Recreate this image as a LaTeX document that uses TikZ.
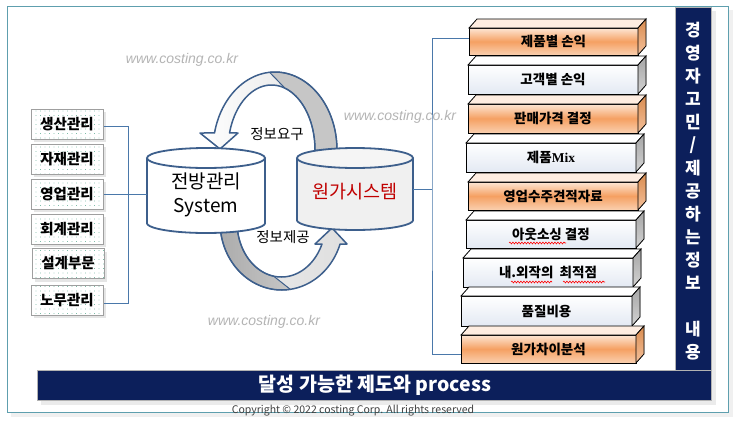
\documentclass[tikz,border=0pt]{standalone}
\usepackage{fontspec}
\setmainfont{Noto Sans CJK KR}
\newfontfamily\wmfont{Liberation Sans}
\newfontfamily\mixfont{Liberation Serif}
\usetikzlibrary{patterns.meta,shadows,calc,decorations.pathmorphing}
\definecolor{navy}{HTML}{0C1F5B}
\definecolor{frameteal}{HTML}{5E9FAE}
\definecolor{cylline}{HTML}{3D5F8C}
\definecolor{conn}{HTML}{4A78AA}
\definecolor{wmgray}{HTML}{B4B4B4}
\definecolor{peachtop}{HTML}{FDE6D4}
\definecolor{orangemid}{HTML}{F5A062}
\definecolor{peachbot}{HTML}{FAD0B0}
\definecolor{orsideA}{HTML}{D98C50}
\definecolor{orsideB}{HTML}{F4C09A}
\definecolor{wbot}{HTML}{E3E9F3}
\definecolor{costred}{HTML}{C00000}
\definecolor{dotcol}{HTML}{3A9A7A}
\newcommand\stackbar[7]{%
  \node[#6front, minimum width={#4-#2}, minimum height={#5-#3}] (#1) at ({(#2+#4)/2},{(#3+#5)/2}) {#7};
  \filldraw[#6top] (#1.north west) -- ++(8,-9) -- ($(#1.north east)+(8,-9)$) -- (#1.north east) -- cycle;
  \filldraw[#6side] (#1.north east) -- ++(8,-9) -- ($(#1.south east)+(8,-9)$) -- (#1.south east) -- cycle;
}
\begin{document}
\begin{tikzpicture}[x=1pt,y=-1pt,
  lbox/.style={draw=gray!75, line width=1pt, minimum width=72, minimum height=30, inner sep=1pt,
    font=\fontsize{14.5}{16}\selectfont\bfseries,
    drop shadow={shadow xshift=3pt,shadow yshift=-3pt,fill=black!10,opacity=1},
    preaction={fill=white}, pattern={Dots[radius=0.45pt,distance=4.5pt]}, pattern color=dotcol},
  barbase/.style={draw=black, line width=0.8pt, inner sep=0pt, outer sep=0pt, font=\fontsize{13.5}{15}\selectfont\bfseries},
  ofront/.style={barbase, top color=peachtop, bottom color=peachbot, middle color=orangemid},
  wfront/.style={barbase, top color=white, bottom color=wbot},
  otop/.style={draw=black, line width=0.8pt, fill=peachtop!70},
  wtop/.style={draw=black, line width=0.8pt, fill=white},
  oside/.style={draw=black, line width=0.8pt, top color=orsideA, bottom color=orsideB},
  wside/.style={draw=black, line width=0.8pt, top color=gray!70, bottom color=gray!35},
  conn/.style={draw=conn, line width=1pt},
  cyl/.style={draw=cylline, line width=1.8pt},
  arr/.style={draw=cylline, line width=1.5pt},
  wm/.style={text=wmgray, font=\wmfont\itshape\fontsize{14}{16}\selectfont},
  lbl/.style={font=\fontsize{14.5}{16}\selectfont},
  squig/.style={draw=red, line width=0.6pt, decorate, decoration={snake, amplitude=0.9pt, segment length=3pt}},
  vtxt/.style={text=white, font=\fontsize{17}{18}\selectfont\bfseries}]
\useasboundingbox (0,0) rectangle (738,426);
\fill[white] (0,0) rectangle (738,426);
% frame
\fill[black!6] (11,10) rectangle (733,417);
\filldraw[fill=white, draw=frameteal, line width=1pt] (7,6) rectangle (728,412);
% navy bars
\fill[black!8] (680,11) rectangle (716,405);
\fill[black!8] (41,375) rectangle (716,405);
\filldraw[fill=navy, draw=gray!60, line width=0.8pt] (675,7) rectangle (711,370);
\filldraw[fill=navy, draw=gray!60, line width=0.8pt] (37,370) rectangle (711,400);
\node[text=white, font=\fontsize{19.5}{21}\selectfont\bfseries] (goal) at (375,385) {달성 가능한 제도와 process};
\foreach \c/\i in {경/0,영/1,자/2,고/3,민/4,{/}/5,제/6,공/7,하/8,는/9,정/10,보/11,내/13,용/14}
  \node[vtxt] (v\i) at (693,{30+23*\i}) {\c};
\node[text=black!75, font=\fontsize{10.5}{12}\selectfont] (copy) at (353,411) {Copyright © 2022 costing Corp. All rights reserved};
% watermarks
\node[wm] (wm1) at (182,60) {www.costing.co.kr};
\node[wm] (wm2) at (400,117) {www.costing.co.kr};
\node[wm] (wm3) at (264,322) {www.costing.co.kr};
% top arrow (정보요구)
\path[left color=white, right color=gray!25] (337,150)
  -- plot[domain=0:-167.4,samples=60] ({275+62*cos(\x)},{150+78*sin(\x)})
  -- (200,133) -- (220,149) -- (238,133)
  -- plot[domain=-164.8:0,samples=60] ({271.5+43.5*cos(\x)},{150+65*sin(\x)}) -- cycle;
\filldraw[draw=cylline, line width=1pt, fill=gray!45]
  plot[domain=-95:0,samples=40] ({275+62*cos(\x)},{150+78*sin(\x)})
  -- plot[domain=0:-72,samples=40] ({271.5+43.5*cos(\x)},{150+65*sin(\x)}) -- cycle;
\draw[arr, line join=round] (337,150)
  -- plot[domain=0:-167.4,samples=60] ({275+62*cos(\x)},{150+78*sin(\x)})
  -- (200,133) -- (220,149) -- (238,133)
  -- plot[domain=-164.8:0,samples=60] ({271.5+43.5*cos(\x)},{150+65*sin(\x)});
% bottom arrow (정보제공)
\path[left color=gray!15, right color=gray!25] (220,222)
  -- plot[domain=180:18.9,samples=60] ({281.7+61.7*cos(\x)},{222+68*sin(\x)})
  -- (347,244) -- (332,228) -- (315,244)
  -- plot[domain=23.58:180,samples=60] ({281.35+44.35*cos(\x)},{222+55*sin(\x)}) -- cycle;
\filldraw[draw=cylline, line width=1pt, left color=gray!65, right color=gray!45]
  plot[domain=180:82,samples=40] ({281.7+61.7*cos(\x)},{222+68*sin(\x)})
  -- plot[domain=100:180,samples=40] ({281.35+44.35*cos(\x)},{222+55*sin(\x)}) -- cycle;
\draw[arr, line join=round] (220,222)
  -- plot[domain=180:18.9,samples=60] ({281.7+61.7*cos(\x)},{222+68*sin(\x)})
  -- (347,244) -- (332,228) -- (315,244)
  -- plot[domain=23.58:180,samples=60] ({281.35+44.35*cos(\x)},{222+55*sin(\x)});
\node[lbl] (ask) at (277,134) {정보요구};
\node[lbl] (give) at (283,237) {정보제공};
% left cylinder
\fill[white] (147,158) rectangle (265,223);
\fill[white] (206,223) ellipse [x radius=59pt, y radius=10pt];
\draw[cyl] (147,158) -- (147,223) -- plot[domain=180:0,samples=50] ({206+59*cos(\x)},{223+10*sin(\x)}) -- (265,158);
\filldraw[cyl, fill=white] (206,158) ellipse [x radius=59pt, y radius=10pt];
\node[minimum width=118, minimum height=65, inner sep=0pt] (cylL) at (206,190.5) {};
\node[font=\fontsize{19}{24}\selectfont, align=center] (tL) at (206,195) {전방관리\\System};
% right cylinder
\fill[gray!12] (297,158) rectangle (413,220);
\fill[gray!12] (355,220) ellipse [x radius=58pt, y radius=10pt];
\draw[cyl] (297,158) -- (297,220) -- plot[domain=180:0,samples=50] ({355+58*cos(\x)},{220+10*sin(\x)}) -- (413,158);
\filldraw[cyl, fill=gray!8] (355,158) ellipse [x radius=58pt, y radius=10pt];
\node[minimum width=116, minimum height=62, inner sep=0pt] (cylR) at (355,189) {};
\node[font=\fontsize{18.5}{20}\selectfont, text=costred] (tR) at (355,192) {원가시스템};
% left boxes
\node[lbox] (b1) at (67,124) {생산관리};
\node[lbox] (b2) at (67,159) {자재관리};
\node[lbox] (b3) at (67,194) {영업관리};
\node[lbox] (b4) at (67,229) {회계관리};
\node[lbox] (b5) at (68,263.5) {설계부문};
\node[lbox] (b6) at (67,300) {노무관리};
\draw[conn] ([yshift=-2.5pt]b1.east) -- ++(25,0) |- ([yshift=-3pt]b6.east);
\draw[conn] (b3.east) -- (b3.east -| cylL.west);
% right bars
\stackbar{r1}{469}{28}{638}{55}{o}{제품별 손익}
\stackbar{r2}{468}{65}{638}{94}{w}{고객별 손익}
\stackbar{r3}{468}{104}{638}{133}{o}{판매가격 결정}
\stackbar{r4}{466}{143}{636}{172}{w}{제품{\mixfont\bfseries Mix}}
\stackbar{r5}{468}{182}{638}{210}{o}{영업수주견적자료}
\stackbar{r6}{466}{220}{636}{248}{w}{아웃소싱 결정}
\stackbar{r7}{463}{258}{633}{287}{w}{내.외작의\ \ 최적점}
\stackbar{r8}{461}{296}{632}{326}{w}{품질비용}
\stackbar{r9}{461}{335}{636}{363}{o}{원가차이분석}
\draw[squig] (509,243) -- (566,243);
\draw[squig] (511,282) -- (552,282);
\draw[squig] (563,282) -- (605,282);
\coordinate (rj) at (432,189);
\draw[conn] (cylR.east) -- (rj);
\draw[conn] ([yshift=3pt]r1.west) -| (rj) |- ([yshift=-5pt]r9.west);
\end{tikzpicture}
\end{document}
